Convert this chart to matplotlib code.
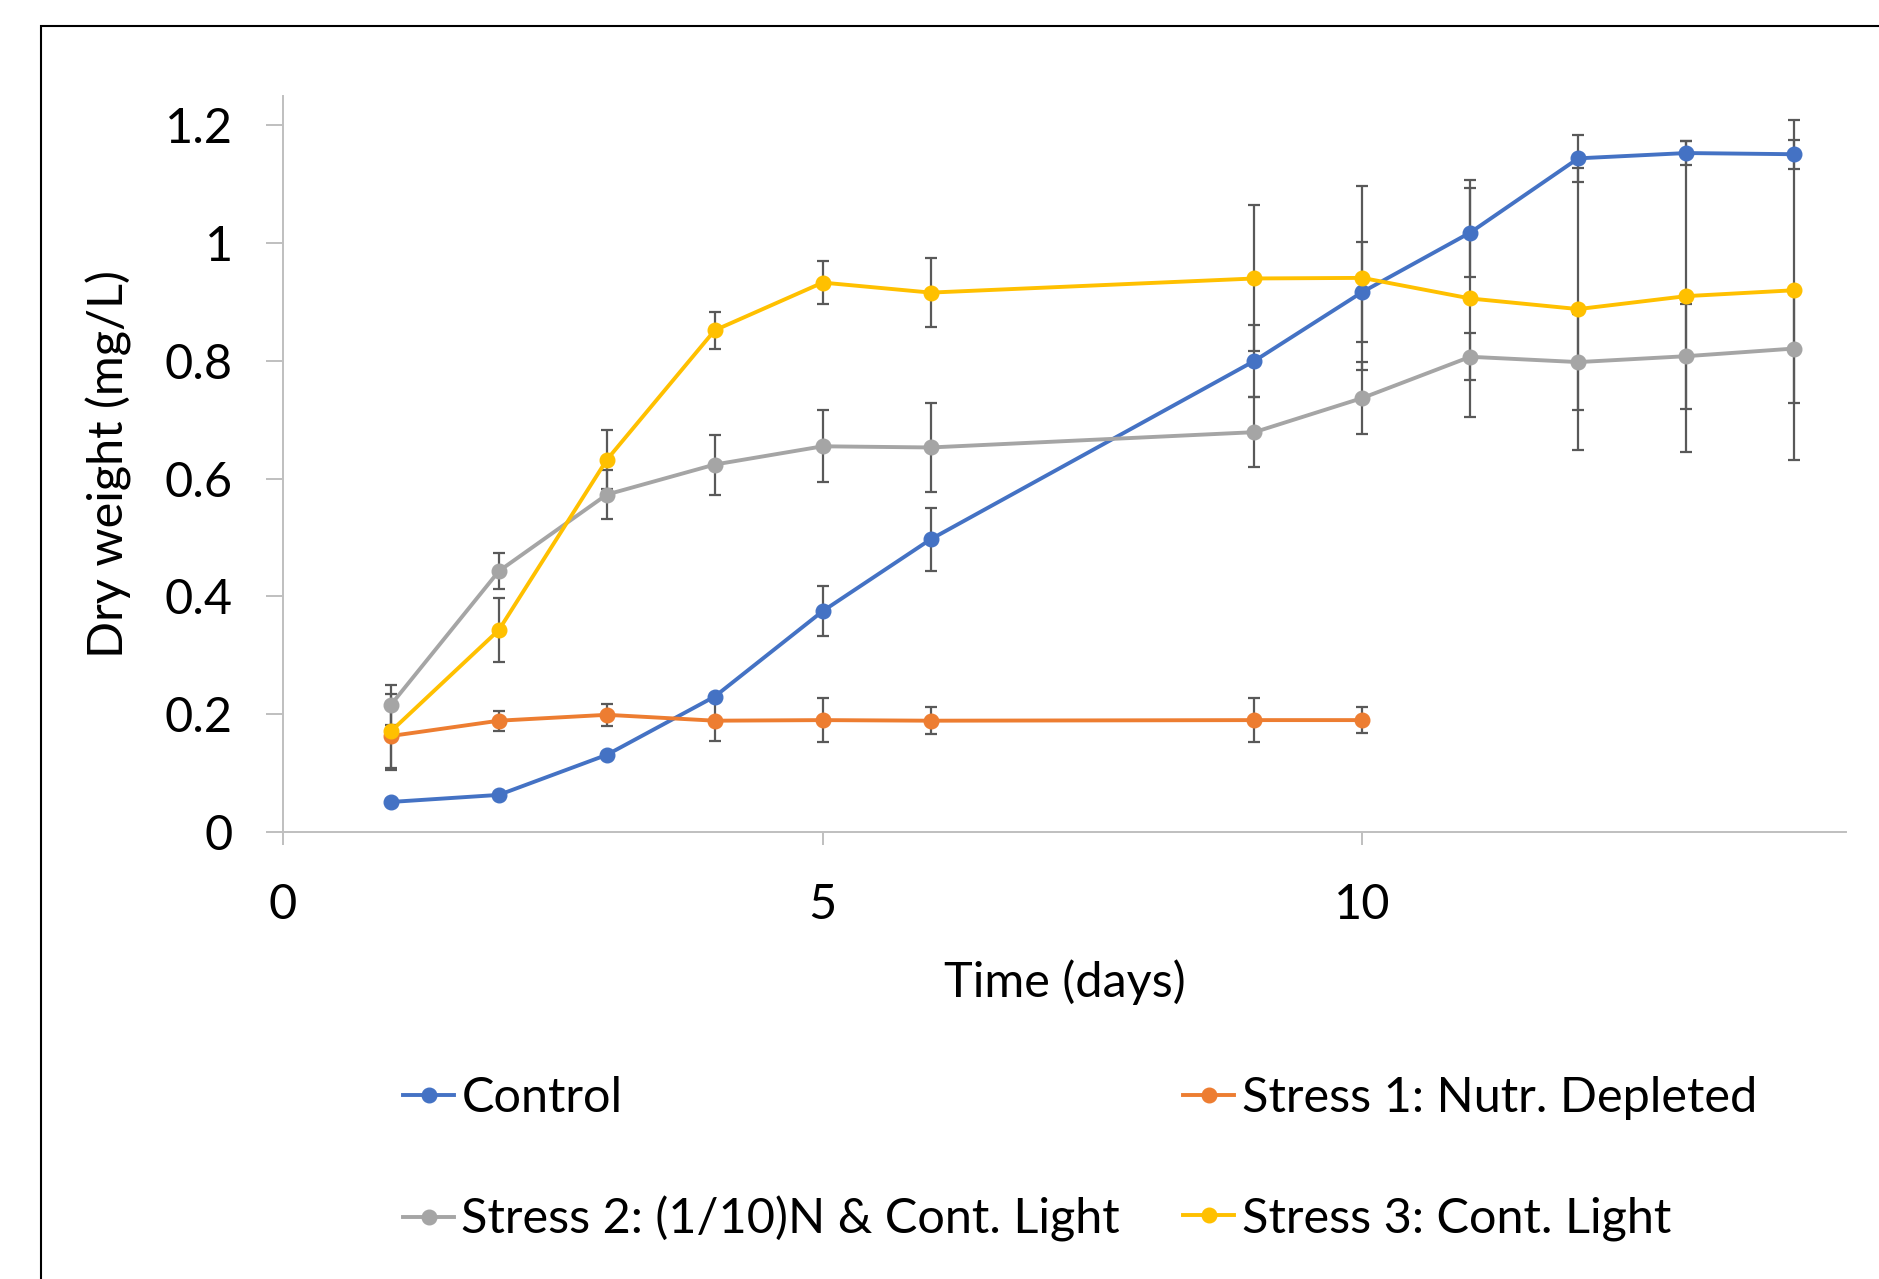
import numpy as np
import matplotlib.pyplot as plt
from matplotlib.patches import Rectangle
from matplotlib.ticker import FuncFormatter

plt.rcParams['font.family'] = ['Lato', 'DejaVu Sans']

# Datos
dias = np.array([1, 2, 3, 4, 5, 6, 9, 10, 11, 12, 13, 14])
dias_s1 = np.array([1, 2, 3, 4, 5, 6, 9, 10])

control = np.array([0.051, 0.063, 0.131, 0.230, 0.375, 0.497, 0.800, 0.917, 1.018, 1.144, 1.153, 1.151])
control_err = np.array([0.005, 0.005, 0.005, 0.005, 0.042, 0.053, 0.061, 0.085, 0.075, 0.040, 0.020, 0.025])

stress1 = np.array([0.163, 0.189, 0.199, 0.189, 0.190, 0.189, 0.190, 0.190])
stress1_err = np.array([0.058, 0.017, 0.019, 0.034, 0.037, 0.023, 0.037, 0.022])

stress2 = np.array([0.216, 0.443, 0.573, 0.624, 0.655, 0.653, 0.679, 0.737, 0.807, 0.798, 0.808, 0.821])
stress2_err = np.array([0.034, 0.030, 0.042, 0.051, 0.061, 0.076, 0.060, 0.061, 0.040, 0.081, 0.089, 0.092])

stress3 = np.array([0.171, 0.343, 0.632, 0.852, 0.933, 0.916, 0.940, 0.941, 0.906, 0.888, 0.910, 0.920])
stress3_err = np.array([0.063, 0.054, 0.050, 0.031, 0.036, 0.058, 0.124, 0.156, 0.201, 0.239, 0.264, 0.289])

nombres = ["Control", "Stress 1: Nutr. Depleted", "Stress 2: (1/10)N & Cont. Light", "Stress 3: Cont. Light"]
colores = ["#4472C4", "#ED7D31", "#A5A5A5", "#FFC000"]

fig = plt.figure(figsize=(18.79, 12.79), dpi=100)
ax = fig.add_axes([0.1506, 0.3495, 0.9824 - 0.1506, 0.925 - 0.3495])

series = [(dias, control, control_err), (dias_s1, stress1, stress1_err),
          (dias, stress2, stress2_err), (dias, stress3, stress3_err)]

# Barras de error primero, debajo de las lineas
for x, y, e in series:
    ax.errorbar(x, y, yerr=e, fmt='none', ecolor='#595959', elinewidth=1.6,
                capsize=4.5, capthick=1.6, zorder=2)

handles = []
for i, (x, y, e) in enumerate(series):
    h, = ax.plot(x, y, '-o', color=colores[i], lw=2.8, markersize=10.5,
                 label=nombres[i], zorder=3 + i)
    handles.append(h)

ax.set_xlim(0, 14.48)
ax.set_ylim(0, 1.25)
ax.set_xticks([0, 5, 10])
ax.set_yticks([0, 0.2, 0.4, 0.6, 0.8, 1.0, 1.2])
ax.yaxis.set_major_formatter(FuncFormatter(lambda v, p: f"{v:g}"))

for s in ['top', 'right']:
    ax.spines[s].set_visible(False)
for s in ['left', 'bottom']:
    ax.spines[s].set_color('#BFBFBF')
    ax.spines[s].set_linewidth(1.4)

ax.tick_params(axis='y', length=12, width=1.4, color='#BFBFBF', pad=24, labelsize=35)
ax.tick_params(axis='x', length=9, width=1.4, color='#BFBFBF', pad=28, labelsize=35)

ax.set_xlabel("Time (days)", fontsize=35, labelpad=23)
ax.set_ylabel("Dry weight (mg/L)", fontsize=35, labelpad=24)

# Orden por filas como en Excel
orden = [0, 2, 1, 3]
fig.legend(handles=[handles[k] for k in orden], loc='center left', bbox_to_anchor=(0.2145, 0.0938),
           ncol=2, frameon=False, fontsize=35, handlelength=1.05, handletextpad=0.15,
           columnspacing=1.3, labelspacing=1.57, borderpad=0, borderaxespad=0, numpoints=1)

# Borde del area del grafico (solo se ven izquierda y arriba)
fig.patches.append(Rectangle((41 / 1879, -0.2), 2, 1.2 - 26 / 1279, transform=fig.transFigure,
                             fill=False, edgecolor='black', lw=1.5, clip_on=False))

plt.savefig("out.png", dpi=100)
